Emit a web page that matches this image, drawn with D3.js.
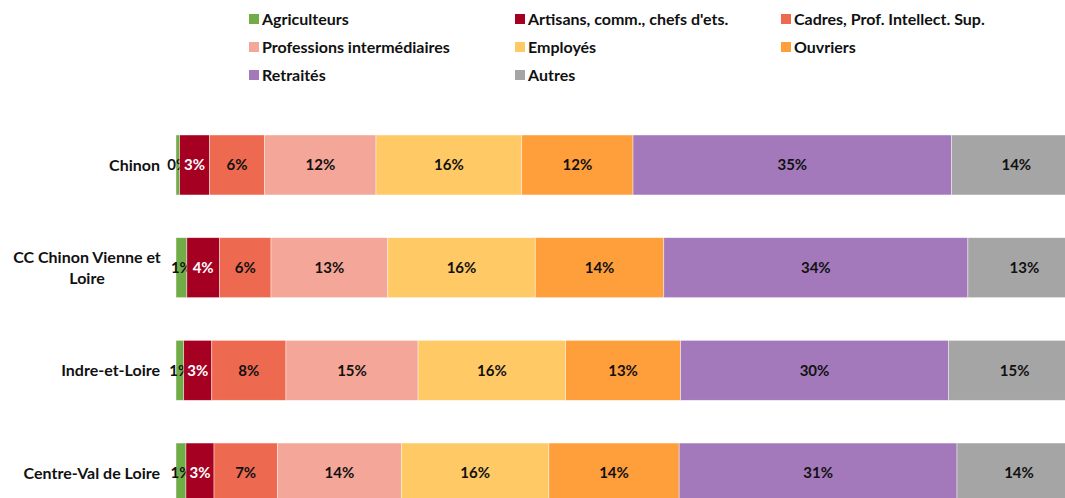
<!DOCTYPE html>
<html>
<head>
<meta charset="utf-8">
<script src="https://cdn.jsdelivr.net/npm/d3@7"></script>
<style>
  body { margin: 0; background: #fff; overflow: hidden; }
  svg { display: block; }
  text { font-family: Lato, "Open Sans", sans-serif; font-weight: bold; }
</style>
</head>
<body>
<script>
// catégories (lignes du graphique)
var territoires = ["Chinon", "CC Chinon Vienne et Loire", "Indre-et-Loire", "Centre-Val de Loire"];

// séries (CSP), en % par territoire
var series = ["Agriculteurs", "Artisans, comm., chefs d'ets.", "Cadres, Prof. Intellect. Sup.",
              "Professions intermédiaires", "Employés", "Ouvriers", "Retraités", "Autres"];
var agriculteurs = [0.4, 1.2, 0.85, 1.1];
var artisans     = [3.3, 3.6, 3.1, 3.1];
var cadres       = [6.1, 5.7, 8.2, 7.0];
var profInter    = [12.3, 12.9, 14.6, 13.7];
var employes     = [16.1, 16.3, 16.3, 16.3];
var ouvriers     = [12.3, 14.2, 12.7, 14.4];
var retraites    = [35.2, 33.6, 29.6, 30.7];
var autres       = [14.3, 12.5, 14.65, 13.7];

var couleurs = ["#70ad47", "#a50021", "#ed6a50", "#f4a698", "#ffc966", "#ff9f3c", "#a379bb", "#a5a5a5"];

var width = 1065, height = 498;

var svg = d3.select("body").append("svg")
    .attr("width", width)
    .attr("height", height);

// table pour d3.stack
var valeurs = [agriculteurs, artisans, cadres, profInter, employes, ouvriers, retraites, autres];
var table = territoires.map(function (t, i) {
  var row = { territoire: t };
  series.forEach(function (s, j) { row[s] = valeurs[j][i]; });
  return row;
});

var stack = d3.stack().keys(series)(table);

var x = d3.scaleLinear().domain([0, 100]).range([176, 1081]);
var y = d3.scaleBand().domain(territoires).range([135, 503]).paddingInner(0.416).paddingOuter(0);
var color = d3.scaleOrdinal().domain(series).range(couleurs);

// barres
var groupes = svg.selectAll("g.serie").data(stack).enter()
    .append("g").attr("class", "serie")
    .attr("fill", function (d) { return color(d.key); });

groupes.selectAll("rect").data(function (d) { return d; }).enter()
    .append("rect")
    .attr("x", function (d) { return x(d[0]); })
    .attr("y", function (d) { return y(d.data.territoire); })
    .attr("width", function (d) { return x(d[1]) - x(d[0]); })
    .attr("height", y.bandwidth())
    .attr("stroke", "#ffffff")
    .attr("stroke-opacity", 0.6)
    .attr("stroke-width", 0.7);

// étiquettes de données
groupes.selectAll("text").data(function (d) { return d.map(function (v) { v.key = d.key; return v; }); }).enter()
    .append("text")
    .attr("x", function (d) { return (x(d[0]) + x(d[1])) / 2; })
    .attr("y", function (d) { return y(d.data.territoire) + y.bandwidth() / 2; })
    .attr("dy", "0.35em")
    .attr("text-anchor", "middle")
    .attr("font-size", 15)
    .attr("fill", function (d) { return d.key === series[1] ? "#ffffff" : "#111111"; })
    .text(function (d) { return Math.round(d[1] - d[0]) + "%"; });

// axe des catégories
var axeY = svg.append("g");
territoires.forEach(function (t) {
  var lignes = t === "CC Chinon Vienne et Loire" ? ["CC Chinon Vienne et", "Loire"] : [t];
  var cy = y(t) + y.bandwidth() / 2;
  var txt = axeY.append("text")
      .attr("font-size", 16)
      .attr("fill", "#111111");
  if (lignes.length === 1) {
    txt.attr("x", 160).attr("y", cy).attr("dy", "0.35em").attr("text-anchor", "end").text(t);
  } else {
    txt.attr("text-anchor", "middle");
    lignes.forEach(function (l, k) {
      txt.append("tspan").attr("x", 87).attr("y", cy + (k - 0.5) * 21).attr("dy", "0.35em").text(l);
    });
  }
});

// légende
var legX = [249, 515, 781], legY = [19, 47, 75];
var legende = svg.selectAll("g.legende").data(series).enter()
    .append("g").attr("class", "legende")
    .attr("transform", function (d, i) { return "translate(" + legX[i % 3] + "," + legY[Math.floor(i / 3)] + ")"; });
legende.append("rect")
    .attr("x", 0).attr("y", -5)
    .attr("width", 10).attr("height", 10)
    .attr("fill", function (d) { return color(d); });
legende.append("text")
    .attr("x", 13).attr("y", 0).attr("dy", "0.35em")
    .attr("font-size", 16)
    .attr("fill", "#111111")
    .text(function (d) { return d; });
</script>
</body>
</html>
